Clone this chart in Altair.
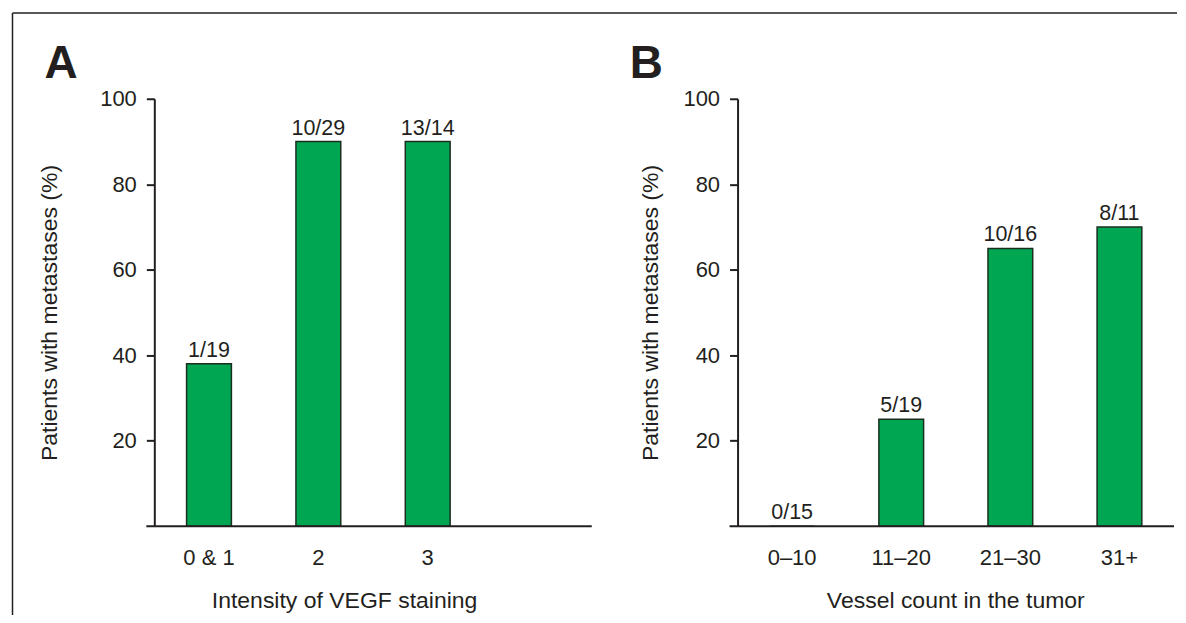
import altair as alt
import pandas as pd

# ---- data ----
a_categories = ["0 & 1", "2", "3", " "]
a_values = [38, 90, 90]
a_labels = ["1/19", "10/29", "13/14"]

b_categories = ["0–10", "11–20", "21–30", "31+"]
b_values = [0, 25, 65, 70]
b_labels = ["0/15", "5/19", "10/16", "8/11"]

y_ticks = [20, 40, 60, 80, 100]

INK = "#231f20"
GREEN = "#00a651"
FONT = "Liberation Sans"
H = 428


def panel(domain, vals, labs, width, xtitle, title_x, ytitle_x, letter, letter_x,
          border_left=False):
    cats = domain[:len(vals)]
    df = pd.DataFrame({"cat": cats, "val": vals, "lab": labs})
    x = alt.X(
        "cat:N", sort=domain,
        scale=alt.Scale(domain=domain, paddingInner=0.59, paddingOuter=0.295),
        axis=alt.Axis(title=xtitle, ticks=False, domain=False, labelAngle=0,
                      labelPadding=21, labelFontSize=22, titleFontSize=23,
                      titleFontWeight="normal", titleX=title_x, titleY=81,
                      titleBaseline="alphabetic", titleAlign="center"),
    )
    y = alt.Y(
        "val:Q", scale=alt.Scale(domain=[0, 100], nice=False),
        axis=alt.Axis(title="Patients with metastases (%)", values=y_ticks,
                      tickSize=8, tickWidth=2, domainWidth=2, labelPadding=10,
                      labelFontSize=22, titleFontSize=23, titleFontWeight="normal",
                      titleX=ytitle_x, titleY=H / 2, titleBaseline="alphabetic",
                      titleAngle=270, titleAlign="center", grid=False),
    )
    bars = alt.Chart(df).mark_bar(color=GREEN, stroke="#1a2e20",
                                  strokeWidth=1.5).encode(x=x, y=y)
    text = alt.Chart(df).mark_text(baseline="alphabetic", dy=-7, fontSize=21.5,
                                   font=FONT, color=INK).encode(
        x=alt.X("cat:N", sort=domain), y=alt.Y("val:Q"), text="lab:N")

    one = pd.DataFrame({"t": [letter]})
    xaxis_line = alt.Chart(one).mark_rule(color=INK, strokeWidth=2).encode(
        x=alt.value(-8), x2=alt.value(width), y=alt.value(H))
    letter_mark = alt.Chart(one).mark_text(
        font=FONT, fontSize=46, fontWeight="bold", color=INK, align="left",
        baseline="alphabetic").encode(x=alt.value(letter_x), y=alt.value(-21),
                                      text="t:N")
    layers = [bars, text, xaxis_line, letter_mark]
    if border_left:
        lb = alt.Chart(one).mark_rule(color=INK, strokeWidth=1.5).encode(
            x=alt.value(-142), y=alt.value(-86), y2=alt.value(517))
        tb = alt.Chart(one).mark_rule(color=INK, strokeWidth=1.5).encode(
            x=alt.value(-142), x2=alt.value(1024), y=alt.value(-86))
        layers += [lb, tb]
    return alt.layer(*layers).properties(width=width, height=H)


chart_a = panel(a_categories, a_values, a_labels, 438,
                "Intensity of VEGF staining", 190, -98, "A", -110,
                border_left=True)
chart_b = panel(b_categories, b_values, b_labels, 437,
                "Vessel count in the tumor", 218, -80, "B", -108)

chart = alt.hconcat(chart_a, chart_b, spacing=146, bounds="flush").properties(
    padding={"left": 3.5, "top": 3.5, "right": 0, "bottom": 0}
).configure_view(stroke=None).configure_axis(
    labelFont=FONT, titleFont=FONT, labelColor=INK, titleColor=INK,
    domainColor=INK, tickColor=INK
)

chart.save("out.html", embed_options={"renderer": "svg", "actions": False})
